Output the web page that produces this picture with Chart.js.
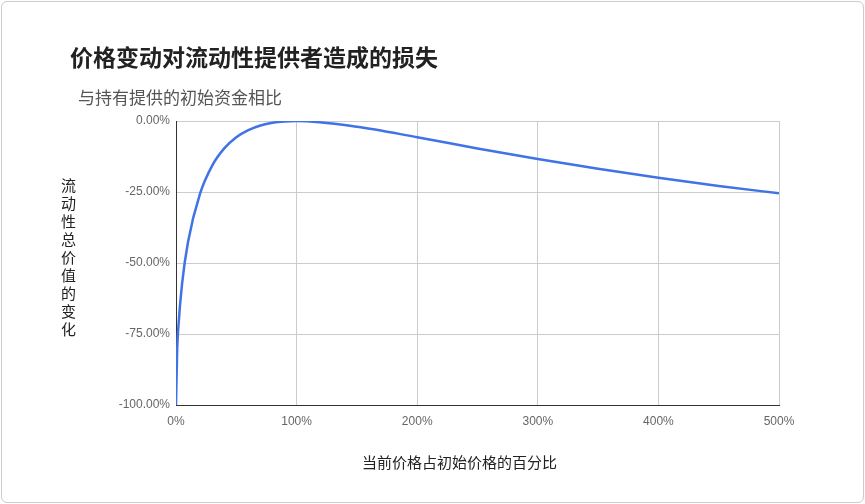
<!DOCTYPE html>
<html><head><meta charset="utf-8">
<script src="https://cdn.jsdelivr.net/npm/chart.js@4"></script>
<style>
body{margin:0;width:865px;height:504px;overflow:hidden;background:#fff;font-family:"Noto Sans CJK SC","Noto Sans",sans-serif;}
#frame{position:absolute;left:1px;top:1px;width:861px;height:500px;border:1px solid #ccc;border-radius:6px;}
#c{position:absolute;left:0;top:0;}
.t{position:absolute;white-space:nowrap;}
</style></head><body>
<div id="frame"></div>
<canvas id="c" width="865" height="504"></canvas>
<div class="t" style="left:70px;top:39px;font-size:23px;font-weight:bold;color:#222">价格变动对流动性提供者造成的损失</div>
<div class="t" style="left:78px;top:84px;font-size:17px;color:#555">与持有提供的初始资金相比</div>
<div class="t" style="left:58px;top:178px;font-size:15px;color:#222;writing-mode:vertical-rl;text-orientation:upright;line-height:20px;letter-spacing:3px">流动性总价值的变化</div>
<div class="t" style="left:362px;top:451px;font-size:15px;color:#222">当前价格占初始价格的百分比</div>
<script>
const ratios=[0,0.01,0.02,0.05,0.1,0.2,0.3,0.4,0.5,0.6,0.7,0.8,0.9,1,1.5,2,2.5,3,3.5,4,4.5,5];
const losses=[-1,-0.802,-0.723,-0.574,-0.425,-0.255,-0.157,-0.0965,-0.057,-0.032,-0.0157,-0.006,-0.0014,0,-0.020,-0.057,-0.0965,-0.134,-0.1685,-0.2,-0.2286,-0.2546];
const pts=ratios.map((r,i)=>({x:r,y:losses[i]}));
new Chart(document.getElementById('c'),{type:'line',
data:{datasets:[{data:pts,borderColor:'#3f73e6',borderWidth:2.5,pointRadius:0,tension:0.4,cubicInterpolationMode:'monotone',fill:false}]},
options:{responsive:false,animation:false,plugins:{legend:{display:false},tooltip:{enabled:false}},
layout:{padding:{left:0,right:86,top:121,bottom:0}},
scales:{
x:{type:'linear',min:0,max:5,afterFit:s=>{s.height=99;},grid:{color:'#ccc',drawTicks:false},border:{color:'#333'},
ticks:{stepSize:1,padding:9,color:'#666',font:{size:12,family:'Arial'},callback:v=>Math.round(v*100)+'%'}},
y:{min:-1,max:0,afterFit:s=>{s.width=176;},grid:{color:'#ccc',drawTicks:false},border:{color:'#333'},
ticks:{stepSize:0.25,padding:6,color:'#666',font:{size:12,family:'Arial'},callback:v=>(v*100).toFixed(2)+'%'}}
}}});
</script></body></html>
